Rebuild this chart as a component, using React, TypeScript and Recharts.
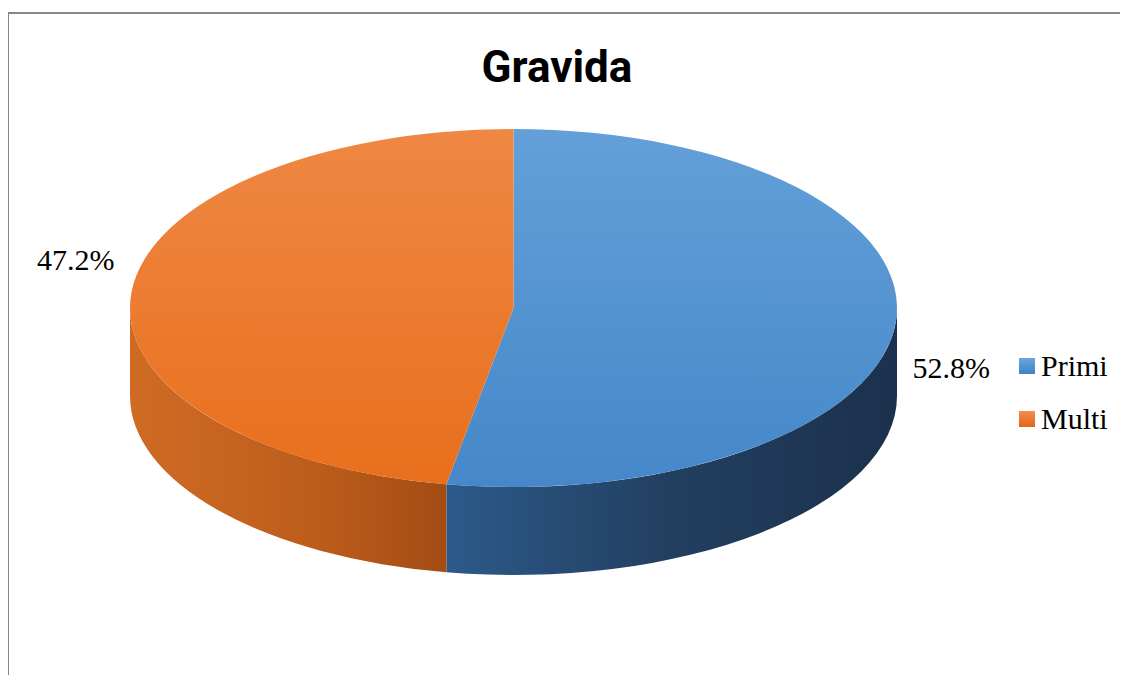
import React from 'react';
import { PieChart, Pie, Cell, Legend } from 'recharts';

const categories = ['Primi', 'Multi'];
const values = [52.8, 47.2];
const valueLabels = ['52.8%', '47.2%'];
const chartTitle = 'Gravida';

const data = categories.map((name, i) => ({ name, value: values[i], label: valueLabels[i] }));

const RAD = Math.PI / 180;
const RY_RATIO = 179 / 383.5;
const DEPTH = 88;

const legendSwatch: Record<string, string> = {
  Primi: 'linear-gradient(#6aa7df, #3f81c2)',
  Multi: 'linear-gradient(#f28e4c, #e0671a)',
};

function pt(cx: number, cy: number, rx: number, ry: number, a: number, dy = 0) {
  return [cx + rx * Math.cos(-a * RAD), cy + ry * Math.sin(-a * RAD) + dy];
}

function Slice3D(props: any) {
  const { cx, cy, outerRadius, startAngle, endAngle, payload } = props;
  const name = payload?.name ?? props.name;
  const rx = outerRadius;
  const ry = outerRadius * RY_RATIO;
  const hi = Math.max(startAngle, endAngle);
  const lo = Math.min(startAngle, endAngle);
  const [x1, y1] = pt(cx, cy, rx, ry, startAngle);
  const [x2, y2] = pt(cx, cy, rx, ry, endAngle);
  const large = hi - lo > 180 ? 1 : 0;
  const sweep = startAngle > endAngle ? 1 : 0;
  const top = `M${cx},${cy} L${x1},${y1} A${rx},${ry} 0 ${large} ${sweep} ${x2},${y2} Z`;
  const sides: string[] = [];
  for (let k = -2; k <= 2; k++) {
    const fLo = -180 + 360 * k;
    const fHi = 360 * k;
    const a = Math.max(lo, fLo);
    const b = Math.min(hi, fHi);
    if (b > a) {
      const [bx, by] = pt(cx, cy, rx, ry, b);
      const [ax, ay] = pt(cx, cy, rx, ry, a);
      const [ax2, ay2] = pt(cx, cy, rx, ry, a, DEPTH);
      const [bx2, by2] = pt(cx, cy, rx, ry, b, DEPTH);
      sides.push(
        `M${bx},${by} A${rx},${ry} 0 0 1 ${ax},${ay} L${ax2},${ay2} A${rx},${ry} 0 0 0 ${bx2},${by2} Z`
      );
    }
  }
  return (
    <g>
      {sides.map((d, i) => (
        <path key={i} d={d} fill={`url(#side-${name})`} stroke="none" />
      ))}
      <path d={top} fill={`url(#top-${name})`} stroke="none" />
    </g>
  );
}

function renderLabel(props: any) {
  const { cx, cy, outerRadius, midAngle, payload } = props;
  const rx = outerRadius;
  const ry = outerRadius * RY_RATIO;
  const [px, py] = pt(cx, cy, rx, ry, midAngle);
  const right = Math.cos(-midAngle * RAD) > 0;
  const front = Math.sin(midAngle * RAD) < 0;
  return (
    <text
      x={px + (right ? 17 : -17)}
      y={py + (front ? 54 : -22)}
      textAnchor={right ? 'start' : 'end'}
      fontFamily="'Liberation Serif', 'Times New Roman', serif"
      fontSize={30}
      fill="#000"
    >
      {payload.label}
    </text>
  );
}

function renderLegend(props: any) {
  const items = [...(props.payload || [])].sort(
    (a: any, b: any) => categories.indexOf(a.value) - categories.indexOf(b.value)
  );
  return (
    <div style={{ fontFamily: "'Liberation Serif', 'Times New Roman', serif", fontSize: 30, color: '#000' }}>
      {items.map((e: any) => (
        <div key={e.value} style={{ display: 'flex', alignItems: 'center', height: 53 }}>
          <span
            style={{
              display: 'inline-block',
              width: 16,
              height: 16,
              background: legendSwatch[e.value],
              marginRight: 6,
            }}
          />
          <span style={{ lineHeight: '30px' }}>{e.value}</span>
        </div>
      ))}
    </div>
  );
}

export default function App() {
  return (
    <div
      style={{
        position: 'relative',
        top: 4,
        left: -1,
        width: 1119,
        height: 665,
        borderTop: '2px solid #878787',
        borderLeft: '2px solid #878787',
        background: '#fff',
      }}
    >
      <PieChart width={1119} height={663} margin={{ top: 0, right: 0, bottom: 0, left: 0 }}>
        <defs>
          <linearGradient id="top-Primi" x1="0" y1="0" x2="0" y2="1">
            <stop offset="0%" stopColor="#63a0d9" />
            <stop offset="100%" stopColor="#4587c9" />
          </linearGradient>
          <linearGradient id="top-Multi" x1="0" y1="0" x2="0" y2="1">
            <stop offset="0%" stopColor="#ef8843" />
            <stop offset="100%" stopColor="#e86f1d" />
          </linearGradient>
          <linearGradient id="side-Primi" gradientUnits="userSpaceOnUse" x1="428" y1="0" x2="890" y2="0">
            <stop offset="0%" stopColor="#2c5b8c" />
            <stop offset="50%" stopColor="#233f60" />
            <stop offset="100%" stopColor="#1b314d" />
          </linearGradient>
          <linearGradient id="side-Multi" gradientUnits="userSpaceOnUse" x1="120" y1="0" x2="428" y2="0">
            <stop offset="0%" stopColor="#d06b24" />
            <stop offset="60%" stopColor="#bd5d1c" />
            <stop offset="100%" stopColor="#a44d15" />
          </linearGradient>
        </defs>
        <text
          x={548}
          y={68}
          textAnchor="middle"
          fontFamily="Roboto, 'Liberation Sans', sans-serif"
          fontWeight={700}
          fontSize={44}
          fill="#000"
        >
          {chartTitle}
        </text>
        <Pie
          data={data}
          dataKey="value"
          nameKey="name"
          cx={504.5}
          cy={294}
          outerRadius={383.5}
          startAngle={90}
          endAngle={-270}
          stroke="none"
          shape={Slice3D}
          activeShape={Slice3D}
          label={renderLabel}
          labelLine={false}
          isAnimationActive={false}
        >
          {data.map((d) => (
            <Cell key={d.name} fill={`url(#top-${d.name})`} />
          ))}
        </Pie>
        <Legend
          content={renderLegend}
          wrapperStyle={{ position: 'absolute', left: 1010, top: 325, width: 'auto', height: 'auto' }}
        />
      </PieChart>
    </div>
  );
}
